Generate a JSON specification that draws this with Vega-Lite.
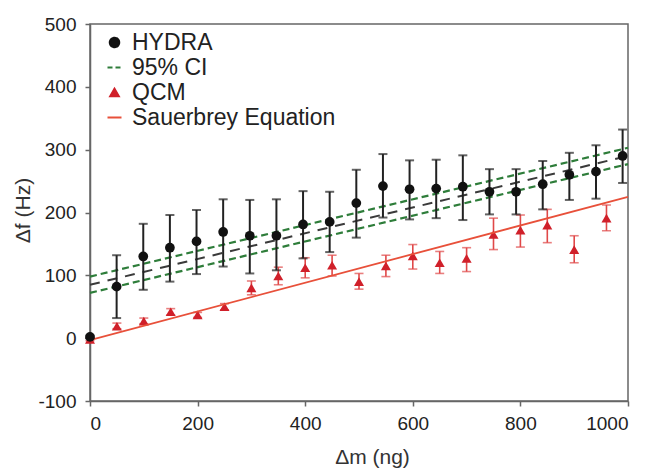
{
  "$schema": "https://vega.github.io/schema/vega-lite/v6.json",
  "width": 538,
  "height": 377,
  "autosize": "none",
  "padding": {"left": 90, "top": 24, "right": 26, "bottom": 70},
  "background": "white",
  "config": {
    "font": "Liberation Sans",
    "view": {"stroke": "#666666", "strokeWidth": 1.5},
    "axis": {
      "grid": false,
      "domainColor": "#666666",
      "domainWidth": 1.5,
      "tickColor": "#666666",
      "tickWidth": 1.5,
      "tickSize": 5,
      "labelFont": "Liberation Sans",
      "labelFontSize": 19,
      "labelColor": "#222222",
      "titleFont": "Liberation Sans",
      "titleFontSize": 21,
      "titleFontWeight": "normal",
      "titleColor": "#333333"
    },
    "legend": {
      "title": null,
      "orient": "none",
      "legendX": 13,
      "legendY": 7,
      "padding": 0,
      "symbolSize": 196,
      "labelFont": "Liberation Sans",
      "labelFontSize": 23,
      "labelColor": "#222222",
      "labelOffset": 6,
      "labelLimit": 400,
      "rowPadding": 1
    }
  },
  "datasets": {
    "hydra": [
      {"m": 0, "f": 2, "lo": 0, "hi": 4, "series": "HYDRA"},
      {"m": 49.5, "f": 82, "lo": 32, "hi": 132, "series": "HYDRA"},
      {"m": 99, "f": 130, "lo": 77, "hi": 182, "series": "HYDRA"},
      {"m": 148.5, "f": 144, "lo": 90, "hi": 196, "series": "HYDRA"},
      {"m": 198, "f": 154, "lo": 102, "hi": 204, "series": "HYDRA"},
      {"m": 247.5, "f": 169, "lo": 114, "hi": 221, "series": "HYDRA"},
      {"m": 297, "f": 163, "lo": 103, "hi": 220, "series": "HYDRA"},
      {"m": 346.5, "f": 163, "lo": 108, "hi": 221, "series": "HYDRA"},
      {"m": 396, "f": 181, "lo": 127, "hi": 234, "series": "HYDRA"},
      {"m": 445.5, "f": 185, "lo": 137, "hi": 233, "series": "HYDRA"},
      {"m": 495, "f": 215, "lo": 160, "hi": 268, "series": "HYDRA"},
      {"m": 544.5, "f": 242, "lo": 192, "hi": 293, "series": "HYDRA"},
      {"m": 594, "f": 237, "lo": 189, "hi": 283, "series": "HYDRA"},
      {"m": 643.5, "f": 238, "lo": 191, "hi": 284, "series": "HYDRA"},
      {"m": 693, "f": 241, "lo": 188, "hi": 291, "series": "HYDRA"},
      {"m": 742.5, "f": 233, "lo": 197, "hi": 269, "series": "HYDRA"},
      {"m": 792, "f": 233, "lo": 197, "hi": 269, "series": "HYDRA"},
      {"m": 841.5, "f": 245, "lo": 205, "hi": 282, "series": "HYDRA"},
      {"m": 891, "f": 260, "lo": 220, "hi": 295, "series": "HYDRA"},
      {"m": 940.5, "f": 265, "lo": 222, "hi": 307, "series": "HYDRA"},
      {"m": 990, "f": 290, "lo": 247, "hi": 332, "series": "HYDRA"}
    ],
    "qcm": [
      {"m": 0, "f": -2, "lo": -4, "hi": 0, "series": "QCM"},
      {"m": 50, "f": 19, "lo": 15, "hi": 24, "series": "QCM"},
      {"m": 100, "f": 27, "lo": 23, "hi": 32, "series": "QCM"},
      {"m": 150, "f": 42, "lo": 37, "hi": 47, "series": "QCM"},
      {"m": 200, "f": 37, "lo": 33, "hi": 41, "series": "QCM"},
      {"m": 250, "f": 50, "lo": 45, "hi": 55, "series": "QCM"},
      {"m": 300, "f": 80, "lo": 69, "hi": 91, "series": "QCM"},
      {"m": 350, "f": 99, "lo": 85, "hi": 113, "series": "QCM"},
      {"m": 400, "f": 112, "lo": 96, "hi": 128, "series": "QCM"},
      {"m": 450, "f": 116, "lo": 99, "hi": 132, "series": "QCM"},
      {"m": 500, "f": 90, "lo": 78, "hi": 103, "series": "QCM"},
      {"m": 550, "f": 115, "lo": 98, "hi": 132, "series": "QCM"},
      {"m": 600, "f": 131, "lo": 110, "hi": 149, "series": "QCM"},
      {"m": 650, "f": 120, "lo": 103, "hi": 138, "series": "QCM"},
      {"m": 700, "f": 127, "lo": 106, "hi": 144, "series": "QCM"},
      {"m": 750, "f": 165, "lo": 141, "hi": 191, "series": "QCM"},
      {"m": 800, "f": 172, "lo": 145, "hi": 196, "series": "QCM"},
      {"m": 850, "f": 180, "lo": 152, "hi": 205, "series": "QCM"},
      {"m": 900, "f": 141, "lo": 120, "hi": 163, "series": "QCM"},
      {"m": 960, "f": 191, "lo": 171, "hi": 212, "series": "QCM"}
    ],
    "lines": [
      {"m": 0, "f": 98, "series": "95% CI", "part": "upper"},
      {"m": 1000, "f": 303, "series": "95% CI", "part": "upper"},
      {"m": 0, "f": 72, "series": "95% CI", "part": "lower"},
      {"m": 1000, "f": 277, "series": "95% CI", "part": "lower"},
      {"m": 0, "f": 85, "series": "fit", "part": "fit"},
      {"m": 1000, "f": 290, "series": "fit", "part": "fit"},
      {"m": 0, "f": -3, "series": "Sauerbrey Equation", "part": "sauerbrey"},
      {"m": 1000, "f": 225, "series": "Sauerbrey Equation", "part": "sauerbrey"}
    ]
  },
  "encoding": {
    "x": {"field": "m", "type": "quantitative", "scale": {"domain": [0, 1000], "nice": false},
      "axis": {"title": "Δm (ng)", "values": [0, 200, 400, 600, 800, 1000], "labelExpr": "'' + datum.value", "labelPadding": 8, "titleX": 282, "titleY": 62, "titleBaseline": "alphabetic"}},
    "y": {"field": "f", "type": "quantitative", "scale": {"domain": [-100, 500], "nice": false},
      "axis": {"title": "Δf (Hz)", "values": [-100, 0, 100, 200, 300, 400, 500], "labelExpr": "'' + datum.value", "labelPadding": 9, "titleX": -67, "titleY": 186, "titleBaseline": "middle", "titleAngle": 270}},
    "color": {
      "field": "series", "type": "nominal",
      "scale": {"domain": ["HYDRA", "95% CI", "QCM", "Sauerbrey Equation"], "range": ["#111111", "#2e7d3a", "#d0202a", "#e8503a"]},
      "legend": {
        "encode": {
          "symbols": {
            "update": {
              "shape": {"signal": "datum.value === 'HYDRA' ? 'circle' : datum.value === 'QCM' ? 'triangle-up' : 'stroke'"},
              "fill": {"signal": "datum.value === 'HYDRA' ? '#111111' : datum.value === 'QCM' ? '#d0202a' : 'transparent'"},
              "stroke": {"signal": "datum.value === '95% CI' ? '#2e7d3a' : datum.value === 'Sauerbrey Equation' ? '#e8503a' : 'transparent'"},
              "strokeDash": {"signal": "datum.value === '95% CI' ? [5, 3] : [1, 0]"},
              "size": {"signal": "datum.value === 'HYDRA' ? 90 : datum.value === 'QCM' ? 75 : 196"},
              "strokeWidth": {"value": 2},
              "opacity": {"value": 1}
            }
          }
        }
      }
    }
  },
  "layer": [
    {
      "data": {"name": "qcm"},
      "mark": {"type": "rule", "strokeWidth": 1.6},
      "encoding": {"y": {"field": "lo", "type": "quantitative"}, "y2": {"field": "hi"}, "color": {"value": "#e04848"}}
    },
    {
      "data": {"name": "qcm"},
      "mark": {"type": "tick", "orient": "horizontal", "size": 9, "thickness": 1.6},
      "encoding": {"y": {"field": "lo", "type": "quantitative"}, "color": {"value": "#e04848"}}
    },
    {
      "data": {"name": "qcm"},
      "mark": {"type": "tick", "orient": "horizontal", "size": 9, "thickness": 1.6},
      "encoding": {"y": {"field": "hi", "type": "quantitative"}, "color": {"value": "#e04848"}}
    },
    {
      "data": {"name": "qcm"},
      "mark": {"type": "point", "shape": "triangle-up", "filled": true, "size": 100, "opacity": 1}
    },
    {
      "data": {"name": "lines"},
      "transform": [{"filter": "datum.series === 'Sauerbrey Equation'"}],
      "mark": {"type": "line", "strokeWidth": 1.8},
      "encoding": {"detail": {"field": "part"}}
    },
    {
      "data": {"name": "lines"},
      "transform": [{"filter": "datum.series === '95% CI'"}],
      "mark": {"type": "line", "strokeWidth": 2.2, "strokeDash": [7, 4]},
      "encoding": {"detail": {"field": "part"}}
    },
    {
      "data": {"name": "lines"},
      "transform": [{"filter": "datum.series === 'fit'"}],
      "mark": {"type": "line", "strokeWidth": 2, "strokeDash": [10, 8]},
      "encoding": {"color": {"value": "#3a3a3a"}}
    },
    {
      "data": {"name": "hydra"},
      "mark": {"type": "rule", "strokeWidth": 2},
      "encoding": {"y": {"field": "lo", "type": "quantitative"}, "y2": {"field": "hi"}, "color": {"value": "#222222"}}
    },
    {
      "data": {"name": "hydra"},
      "mark": {"type": "tick", "orient": "horizontal", "size": 9, "thickness": 2},
      "encoding": {"y": {"field": "lo", "type": "quantitative"}, "color": {"value": "#222222"}}
    },
    {
      "data": {"name": "hydra"},
      "mark": {"type": "tick", "orient": "horizontal", "size": 9, "thickness": 2},
      "encoding": {"y": {"field": "hi", "type": "quantitative"}, "color": {"value": "#222222"}}
    },
    {
      "data": {"name": "hydra"},
      "mark": {"type": "point", "shape": "circle", "filled": true, "size": 95, "opacity": 1}
    }
  ]
}
